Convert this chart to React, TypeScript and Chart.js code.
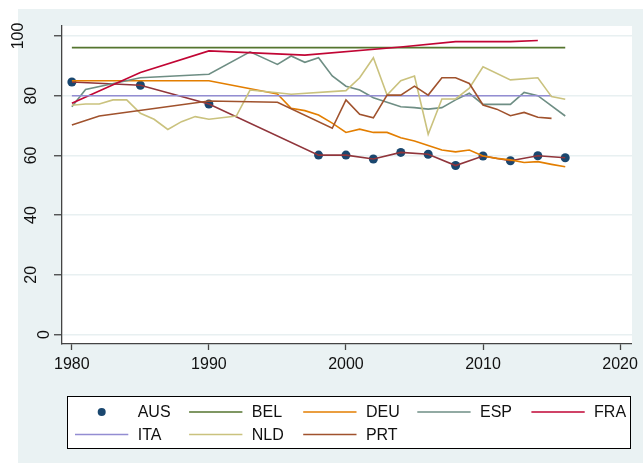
import React, { useEffect, useRef } from 'react';
import { Chart, registerables } from 'chart.js';

Chart.register(...registerables);

const FONT = '"Liberation Sans", Arial, Helvetica, sans-serif';

// Axis ticks
const xTicks = [1980, 1990, 2000, 2010, 2020];
const yTicks = [0, 20, 40, 60, 80, 100];

// Series data
const ausYears = [1980, 1985, 1990, 1998, 2000, 2002, 2004, 2006, 2008, 2010, 2012, 2014, 2016];
const ausValues = [84.6, 83.5, 77.2, 60.1, 60.1, 58.8, 61.0, 60.4, 56.6, 59.8, 58.2, 59.9, 59.2];

const belYears = [1980, 2016];
const belValues = [96.1, 96.1];

const deuYears = [1980, 1990, 1995, 1996, 1997, 1998, 1999, 2000, 2001, 2002, 2003, 2004, 2005, 2006, 2007, 2008, 2009, 2010, 2011, 2012, 2013, 2014, 2015, 2016];
const deuValues = [85.0, 85.0, 80.6, 75.8, 75.0, 73.5, 70.8, 67.7, 68.8, 67.7, 67.7, 65.9, 64.8, 63.3, 61.8, 61.2, 61.8, 59.8, 59.0, 58.5, 57.6, 57.9, 57.0, 56.2];

const espYears = [1980, 1981, 1985, 1990, 1993, 1995, 1996, 1997, 1998, 1999, 2000, 2001, 2002, 2003, 2004, 2005, 2006, 2007, 2008, 2009, 2010, 2012, 2013, 2014, 2016];
const espValues = [76.3, 82.1, 86.0, 87.2, 94.7, 90.5, 93.3, 91.2, 92.7, 86.6, 83.2, 81.9, 79.3, 77.8, 76.3, 76.0, 75.5, 76.0, 78.6, 80.8, 77.1, 77.1, 81.1, 80.0, 73.2];

const fraYears = [1980, 1985, 1990, 1997, 2004, 2008, 2010, 2012, 2014];
const fraValues = [77.5, 87.8, 95.0, 93.6, 96.3, 98.1, 98.1, 98.1, 98.5];

const itaYears = [1980, 2015];
const itaValues = [80.0, 80.0];

const nldYears = [1980, 1981, 1982, 1983, 1984, 1985, 1986, 1987, 1988, 1989, 1990, 1992, 1993, 1995, 1996, 2000, 2001, 2002, 2003, 2004, 2005, 2006, 2007, 2008, 2009, 2010, 2012, 2014, 2015, 2016];
const nldValues = [76.8, 77.2, 77.2, 78.6, 78.6, 74.1, 72.1, 68.7, 71.3, 73.0, 72.1, 73.2, 81.9, 81.0, 80.5, 81.7, 86.0, 92.7, 80.2, 85.0, 86.6, 67.1, 78.9, 78.9, 82.5, 89.7, 85.3, 86.0, 79.7, 78.8];

const prtYears = [1980, 1982, 1990, 1995, 1999, 2000, 2001, 2002, 2003, 2004, 2005, 2006, 2007, 2008, 2009, 2010, 2011, 2012, 2013, 2014, 2015];
const prtValues = [70.2, 73.2, 78.2, 77.8, 69.1, 78.6, 73.8, 72.6, 80.2, 80.2, 83.2, 80.2, 86.0, 86.0, 84.1, 76.9, 75.5, 73.3, 74.4, 72.8, 72.4];

const COLORS = {
  navy: '#1a476f',
  maroon: '#90353b',
  forest: '#55752f',
  dkorange: '#e37e00',
  teal: '#6e8e84',
  cranberry: '#c10534',
  lavender: '#938dd2',
  khaki: '#cac27e',
  sienna: '#a0522d',
};

const pts = (xs: number[], ys: number[]) => xs.map((x, i) => ({ x, y: ys[i] }));

const lineDs = (label: string, color: string, xs: number[], ys: number[], order: number) => ({
  label,
  data: pts(xs, ys),
  borderColor: color,
  backgroundColor: color,
  borderWidth: 1.6,
  pointRadius: 0,
  pointHoverRadius: 0,
  tension: 0,
  fill: false,
  showLine: true,
  order,
});

const bgPlugin = {
  id: 'stataBg',
  beforeDraw(chart: any) {
    const { ctx, chartArea, width, height } = chart;
    ctx.save();
    ctx.fillStyle = '#ffffff';
    ctx.fillRect(0, 0, width, height);
    ctx.fillStyle = '#eaf2f3';
    ctx.fillRect(18, 9, width - 18, height - 9);
    ctx.fillStyle = '#ffffff';
    ctx.fillRect(chartArea.left, chartArea.top, chartArea.right - chartArea.left, chartArea.bottom - chartArea.top);
    ctx.restore();
  },
};

const yLabelPlugin = {
  id: 'yRotLabels',
  afterDraw(chart: any) {
    const { ctx, chartArea } = chart;
    const s = chart.scales.y;
    ctx.save();
    ctx.font = `16px ${FONT}`;
    ctx.fillStyle = '#111111';
    ctx.textAlign = 'center';
    ctx.textBaseline = 'middle';
    s.ticks.forEach((t: any) => {
      const label = String(t.value);
      const w = ctx.measureText(label).width;
      const cx = chartArea.left - 5.5 - 1.46 * w;
      const cy = s.getPixelForValue(t.value);
      ctx.save();
      ctx.translate(cx, cy);
      ctx.rotate(-Math.PI / 2);
      ctx.fillText(label, 0, 1);
      ctx.restore();
    });
    ctx.restore();
  },
};

const legendPlugin = {
  id: 'stataLegend',
  afterDraw(chart: any) {
    const { ctx } = chart;
    const items = chart.data.datasets.filter((d: any) => d.label);
    ctx.save();
    ctx.fillStyle = '#ffffff';
    ctx.fillRect(67.5, 396.5, 563, 52);
    ctx.strokeStyle = '#000000';
    ctx.lineWidth = 1;
    ctx.strokeRect(67.5, 396.5, 563, 52);
    ctx.font = `16px ${FONT}`;
    ctx.textAlign = 'left';
    ctx.textBaseline = 'middle';
    items.forEach((d: any, i: number) => {
      const col = i % 5;
      const row = Math.floor(i / 5);
      const tx = 137.7 + col * 114.1;
      const y = 412 + row * 22.5;
      if (d.showLine === false) {
        ctx.fillStyle = d.backgroundColor;
        ctx.beginPath();
        ctx.arc(tx - 36, y, 4, 0, Math.PI * 2);
        ctx.fill();
      } else {
        ctx.strokeStyle = d.borderColor;
        ctx.lineWidth = 1.6;
        ctx.beginPath();
        ctx.moveTo(tx - 62.7, y);
        ctx.lineTo(tx - 9.4, y);
        ctx.stroke();
      }
      ctx.fillStyle = '#111111';
      ctx.fillText(d.label, tx, y + 1);
    });
    ctx.restore();
  },
};

export default function App() {
  const ref = useRef<HTMLCanvasElement | null>(null);

  useEffect(() => {
    if (!ref.current) return;
    const datasets: any[] = [
      {
        label: 'AUS',
        data: pts(ausYears, ausValues),
        showLine: false,
        pointRadius: 4.5,
        pointHoverRadius: 4.5,
        pointBackgroundColor: COLORS.navy,
        pointBorderColor: COLORS.navy,
        backgroundColor: COLORS.navy,
        borderColor: COLORS.navy,
        borderWidth: 0,
        order: 9,
      },
      lineDs('', COLORS.maroon, ausYears, ausValues, 8),
      lineDs('BEL', COLORS.forest, belYears, belValues, 7),
      lineDs('DEU', COLORS.dkorange, deuYears, deuValues, 6),
      lineDs('ESP', COLORS.teal, espYears, espValues, 5),
      lineDs('FRA', COLORS.cranberry, fraYears, fraValues, 4),
      lineDs('ITA', COLORS.lavender, itaYears, itaValues, 3),
      lineDs('NLD', COLORS.khaki, nldYears, nldValues, 2),
      lineDs('PRT', COLORS.sienna, prtYears, prtValues, 1),
    ];

    const chart = new Chart(ref.current, {
      type: 'line',
      data: { datasets },
      options: {
        responsive: false,
        animation: false,
        events: [],
        font: { family: FONT },
        layout: { padding: { left: 0, top: 26, right: 7, bottom: 0 } },
        plugins: {
          legend: { display: false },
          tooltip: { enabled: false },
        },
        scales: {
          x: {
            type: 'linear',
            min: 1979.28,
            max: 2020.87,
            afterBuildTicks: (s: any) => {
              s.ticks = xTicks.map((v) => ({ value: v }));
            },
            afterFit: (s: any) => {
              s.height = 119;
            },
            grid: {
              drawOnChartArea: false,
              drawTicks: true,
              tickLength: 6,
              tickColor: '#444444',
              tickWidth: 1.3,
            },
            border: { display: true, color: '#444444', width: 1.3 },
            ticks: {
              autoSkip: false,
              maxRotation: 0,
              minRotation: 0,
              padding: 5,
              color: '#111111',
              font: { family: FONT, size: 16 },
              callback: (v: any) => String(v),
            },
          },
          y: {
            type: 'linear',
            min: -3.18,
            max: 103.35,
            afterBuildTicks: (s: any) => {
              s.ticks = yTicks.map((v) => ({ value: v }));
            },
            afterFit: (s: any) => {
              s.width = 62;
            },
            grid: {
              drawOnChartArea: true,
              color: '#e8f0f1',
              lineWidth: 1.5,
              drawTicks: true,
              tickLength: 8,
              tickColor: '#444444',
              tickWidth: 1.3,
            },
            border: { display: true, color: '#444444', width: 1.3 },
            ticks: { display: false },
          },
        },
      } as any,
      plugins: [bgPlugin, yLabelPlugin, legendPlugin],
    });
    return () => chart.destroy();
  }, []);

  return (
    <div style={{ position: 'absolute', left: 0, top: 0, width: 643, height: 463 }}>
      <canvas ref={ref} width={643} height={463} style={{ display: 'block', width: 643, height: 463 }} />
    </div>
  );
}
